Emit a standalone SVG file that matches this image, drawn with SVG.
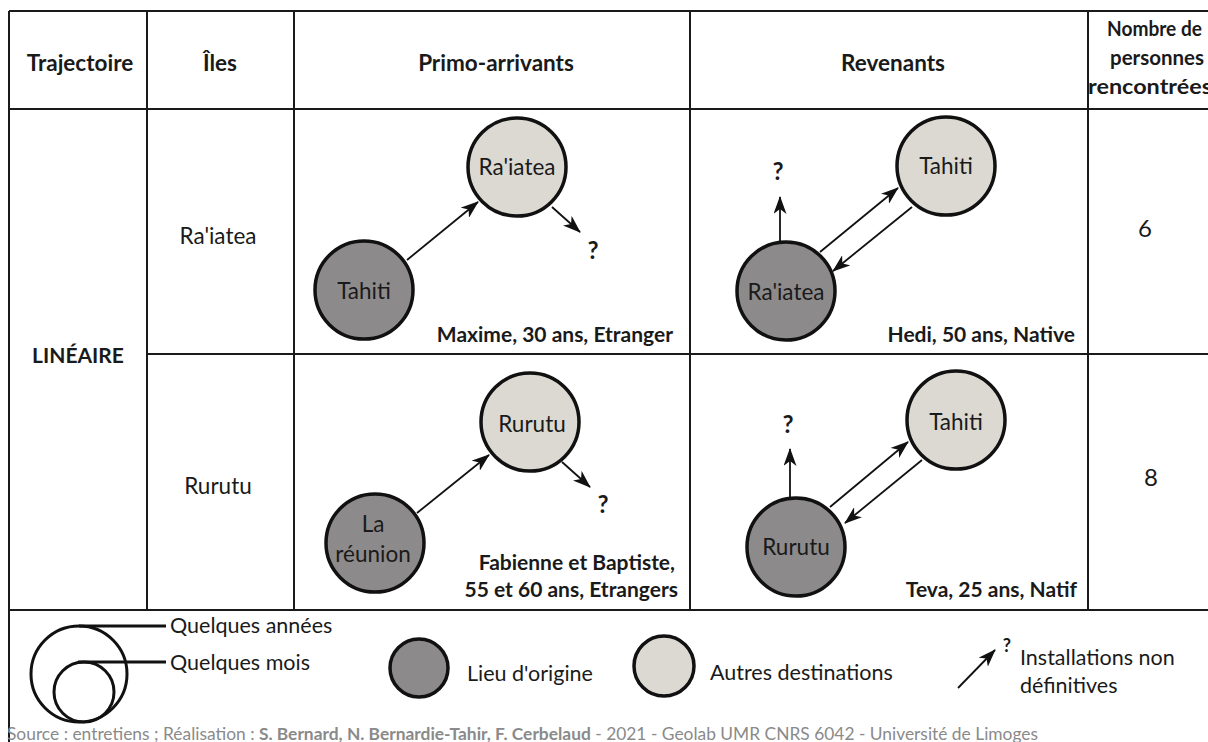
<svg xmlns="http://www.w3.org/2000/svg" width="1208" height="742" viewBox="0 0 1208 742">
<style>
.t{font-family:Lato,"Open Sans","Liberation Sans",sans-serif;fill:#1a1a1a}
.b{font-weight:700}
.h{font-size:22.5px;font-weight:700;text-anchor:middle}
.hs{font-size:21px;font-weight:700}
.n{font-size:22.5px;text-anchor:middle}
.lab{font-size:21px;font-weight:700;text-anchor:end}
.q{font-size:24px;font-weight:700;text-anchor:middle}
.lt{font-size:21.5px}
.grid{stroke:#1a1a1a;stroke-width:2;fill:none}
.dark{fill:#8d8a8b;stroke:#111;stroke-width:3.5}
.light{fill:#dbd9d1;stroke:#111;stroke-width:3.5}
.arr{stroke:#111;stroke-width:1.8;fill:none;marker-end:url(#ah)}
.lg{fill:none;stroke:#111;stroke-width:3}
.src{font-size:17px;fill:#8a8a8a}
</style>
<defs>
<marker id="ah" viewBox="0 0 18 13" markerWidth="18" markerHeight="13" refX="17" refY="6.5" orient="auto" markerUnits="userSpaceOnUse">
<path d="M0,0 L18,6.5 L0,13 L5,6.5 Z" fill="#111"/>
</marker>
</defs>
<rect width="1208" height="742" fill="#fff"/>

<g id="table" class="grid">
<line x1="9" y1="11" x2="1210" y2="11"/>
<line x1="9" y1="11" x2="9" y2="742"/>
<line x1="147" y1="11" x2="147" y2="610"/>
<line x1="294" y1="11" x2="294" y2="610"/>
<line x1="690" y1="11" x2="690" y2="610"/>
<line x1="1088" y1="11" x2="1088" y2="610"/>
<line x1="9" y1="109" x2="1210" y2="109"/>
<line x1="147" y1="354" x2="1210" y2="354"/>
<line x1="9" y1="610" x2="1210" y2="610"/>
</g>

<g id="headers">
<text class="t h" x="80" y="71">Trajectoire</text>
<text class="t h" x="220" y="71">Îles</text>
<text class="t h" x="496" y="71">Primo-arrivants</text>
<text class="t h" x="893" y="71">Revenants</text>
<text class="t hs" x="1107" y="36" textLength="95" lengthAdjust="spacingAndGlyphs">Nombre de</text>
<text class="t hs" x="1110" y="65" textLength="94" lengthAdjust="spacingAndGlyphs">personnes</text>
<text class="t hs" x="1088" y="94" textLength="124" lengthAdjust="spacingAndGlyphs">rencontrées</text>
<text class="t b" x="78" y="363" font-size="21" text-anchor="middle">LINÉAIRE</text>
<text class="t n" x="218" y="244">Ra'iatea</text>
<text class="t n" x="218" y="494">Rurutu</text>
<text class="t" x="1145" y="237" font-size="24" text-anchor="middle">6</text>
<text class="t" x="1151" y="486" font-size="24" text-anchor="middle">8</text>
</g>

<g id="connectors">
<line class="arr" x1="407" y1="260" x2="478" y2="202"/>
<line class="arr" x1="552" y1="207" x2="580" y2="232"/>
<line class="arr" x1="780" y1="242" x2="780" y2="197"/>
<line class="arr" x1="820" y1="252" x2="898" y2="188"/>
<line class="arr" x1="912" y1="207" x2="833" y2="271"/>
<line class="arr" x1="417" y1="513" x2="489" y2="455"/>
<line class="arr" x1="562" y1="462" x2="590" y2="487"/>
<line class="arr" x1="790" y1="497" x2="790" y2="449"/>
<line class="arr" x1="830" y1="507" x2="908" y2="442"/>
<line class="arr" x1="922" y1="460" x2="845" y2="523"/>
</g>

<g id="r1p-raiatea"><circle class="light" cx="517" cy="167" r="49"/><text class="t n" x="517" y="175">Ra'iatea</text></g>
<g id="r1p-tahiti"><circle class="dark" cx="364" cy="290" r="49"/><text class="t n" x="364" y="299">Tahiti</text></g>
<g id="r1p-q"><text class="t q" x="593" y="259">?</text></g>
<g id="r1p-label"><text class="t lab" x="673" y="342">Maxime, 30 ans, Etranger</text></g>

<g id="r1r-tahiti"><circle class="light" cx="946" cy="166" r="49"/><text class="t n" x="946" y="174">Tahiti</text></g>
<g id="r1r-raiatea"><circle class="dark" cx="786" cy="291" r="49"/><text class="t n" x="786" y="300">Ra'iatea</text></g>
<g id="r1r-q"><text class="t q" x="778" y="180">?</text></g>
<g id="r1r-label"><text class="t lab" x="1075" y="342">Hedi, 50 ans, Native</text></g>

<g id="r2p-rurutu"><circle class="light" cx="530" cy="422" r="49"/><text class="t n" x="532" y="432">Rurutu</text></g>
<g id="r2p-reunion"><circle class="dark" cx="375" cy="543" r="49"/><text class="t n" x="373" y="532">La</text><text class="t n" x="373" y="562">réunion</text></g>
<g id="r2p-q"><text class="t q" x="603" y="513">?</text></g>
<g id="r2p-label"><text class="t lab" x="675" y="570">Fabienne et Baptiste,</text><text class="t lab" x="678" y="597">55 et 60 ans, Etrangers</text></g>

<g id="r2r-tahiti"><circle class="light" cx="956" cy="420" r="49"/><text class="t n" x="956" y="430">Tahiti</text></g>
<g id="r2r-rurutu"><circle class="dark" cx="796" cy="547" r="49"/><text class="t n" x="796" y="555">Rurutu</text></g>
<g id="r2r-q"><text class="t q" x="788" y="433">?</text></g>
<g id="r2r-label"><text class="t lab" x="1077" y="597">Teva, 25 ans, Natif</text></g>

<g id="legend">
<circle class="lg" cx="79" cy="674" r="48"/>
<circle class="lg" cx="84" cy="692" r="30"/>
<line class="lg" x1="79" y1="626" x2="166" y2="626"/>
<line class="lg" x1="78" y1="662" x2="166" y2="662"/>
<text class="t lt" x="170" y="633">Quelques années</text>
<text class="t lt" x="170" y="670">Quelques mois</text>
<circle class="dark" cx="419" cy="668" r="29" stroke-width="3"/>
<text class="t lt" x="467" y="681">Lieu d'origine</text>
<circle class="light" cx="664" cy="666" r="30" stroke-width="3"/>
<text class="t lt" x="710" y="680">Autres destinations</text>
<line class="arr" x1="958" y1="688" x2="995" y2="650"/>
<text class="t b" x="1007" y="652" font-size="18" text-anchor="middle">?</text>
<text class="t lt" x="1020" y="665">Installations non</text>
<text class="t lt" x="1020" y="693">définitives</text>
</g>

<text class="t src" x="7" y="740" textLength="1031" lengthAdjust="spacingAndGlyphs">Source : entretiens ; Réalisation : <tspan font-weight="700">S. Bernard, N. Bernardie-Tahir, F. Cerbelaud</tspan> - 2021 - Geolab UMR CNRS 6042 - Université de Limoges</text>
</svg>
